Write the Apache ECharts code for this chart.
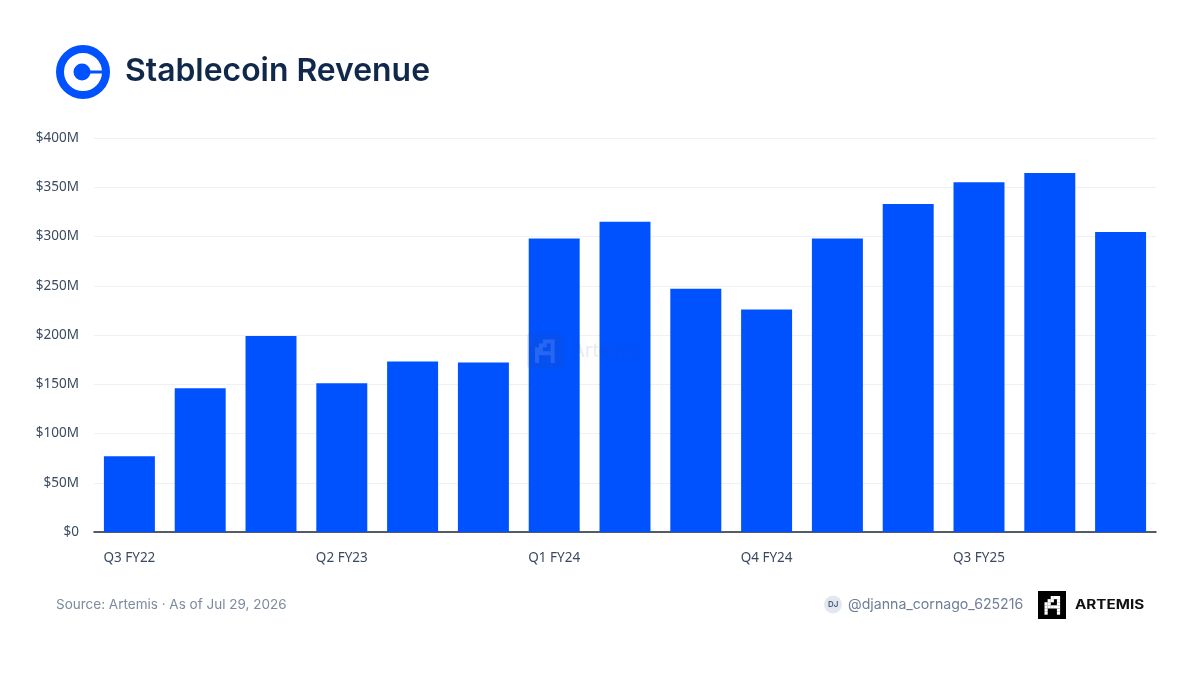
<!DOCTYPE html>
<html>
<head>
<meta charset="utf-8">
<style>html,body{margin:0;padding:0;background:#fff}#c{width:1200px;height:675px}</style>
<script src="https://cdn.jsdelivr.net/npm/echarts@6/dist/echarts.min.js"></script>
</head>
<body>
<div id="c"></div>
<script>
const categories = ['Q3 FY22','Q4 FY22','Q1 FY23','Q2 FY23','Q3 FY23','Q4 FY23','Q1 FY24','Q2 FY24','Q3 FY24','Q4 FY24','Q1 FY25','Q2 FY25','Q3 FY25','Q4 FY25','Q1 FY26'];
const revenue = [77,146,199,151,173,172,298,315,247,226,298,333,355,364.5,304.5];
const titleText = 'Stablecoin Revenue';
const sourceText = 'Source: Artemis · As of Jul 29, 2026';
const handleText = '@djanna_cornago_625216';

// pixel "A" mark: [column, row] cells on a 5x6 grid
const markCells = [[2,0],[3,0],[4,0],[1,1],[2,1],[4,1],[0,2],[1,2],[4,2],[0,3],[1,3],[2,3],[3,3],[4,3],[0,4],[4,4],[0,5],[4,5]];
function pixelMark(x, y, cell, fill, z) {
  return markCells.map(([cx, cy]) => ({
    type: 'rect', z: z, silent: true,
    shape: { x: x + cx * cell, y: y + cy * cell, width: cell + 0.1, height: cell + 0.1 },
    style: { fill: fill }
  }));
}

const chart = echarts.init(document.getElementById('c'), null, { renderer: 'canvas' });
chart.setOption({
  animation: false,
  backgroundColor: '#ffffff',
  textStyle: { fontFamily: 'Inter' },
  grid: { left: 94, right: 44, top: 138, bottom: 143 },
  xAxis: {
    type: 'category',
    data: categories,
    axisTick: { show: false },
    axisLine: { show: true, lineStyle: { color: '#1f2937', width: 1.5 } },
    axisLabel: { interval: 2, margin: 19, fontSize: 13.5, color: '#3b4a60', fontFamily: 'Noto Sans' }
  },
  yAxis: {
    type: 'value',
    min: 0, max: 400, interval: 50,
    axisLine: { show: false },
    axisTick: { show: false },
    axisLabel: {
      margin: 15, fontSize: 13.5, color: '#3b4a60', fontFamily: 'Noto Sans',
      padding: [4, 0, 0, 0],
      formatter: v => v === 0 ? '$0' : '$' + v + 'M'
    },
    splitLine: { lineStyle: { color: '#f0f1f3', width: 1 } }
  },
  series: [{
    type: 'bar',
    data: revenue,
    barCategoryGap: '28%',
    itemStyle: { color: '#0052ff' }
  }],
  graphic: [
    // logo
    { type: 'circle', z: 10, shape: { cx: 83, cy: 72, r: 23 }, style: { fill: 'none', stroke: '#0052ff', lineWidth: 8 } },
    { type: 'circle', z: 10, shape: { cx: 82, cy: 72, r: 8.5 }, style: { fill: '#0052ff' } },
    { type: 'rect', z: 10, shape: { x: 82, y: 70.5, width: 22, height: 3 }, style: { fill: '#0052ff' } },
    // title
    { type: 'text', z: 10, left: 125, top: 55, style: { text: titleText, font: '600 31.9px Inter', fill: '#10294a' } },
    // watermark
    { type: 'rect', z: 10, shape: { x: 527, y: 333, width: 36, height: 36, r: 4 }, style: { fill: 'rgba(60,70,100,0.10)' } },
    ...pixelMark(535, 339.5, 3.9, 'rgba(255,255,255,0.13)', 11),
    { type: 'text', z: 10, left: 572, top: 342, style: { text: 'Artemis', font: '500 18.5px Inter', fill: 'rgba(60,70,100,0.10)' } },
    // footer
    { type: 'text', z: 10, left: 56, top: 598, style: { text: sourceText, font: '400 13.5px Inter', fill: '#7c8aa0' } },
    { type: 'circle', z: 10, shape: { cx: 833, cy: 604.5, r: 9 }, style: { fill: '#e3e8f0' } },
    { type: 'text', z: 11, left: 828, top: 601, style: { text: 'DJ', font: '600 8px Inter', fill: '#4a5a74' } },
    { type: 'text', z: 10, left: 848, top: 598, style: { text: handleText, font: '400 14.15px Inter', fill: '#6f7f98' } },
    { type: 'rect', z: 10, shape: { x: 1038, y: 591, width: 28, height: 28 }, style: { fill: '#000000' } },
    ...pixelMark(1044.5, 596, 3.1, '#ffffff', 11),
    { type: 'text', z: 10, x: 1075, y: 599, scaleX: 1.17, style: { text: 'ARTEMIS', font: '700 13px Inter', fill: '#111111' } }
  ]
});
</script>
</body>
</html>
